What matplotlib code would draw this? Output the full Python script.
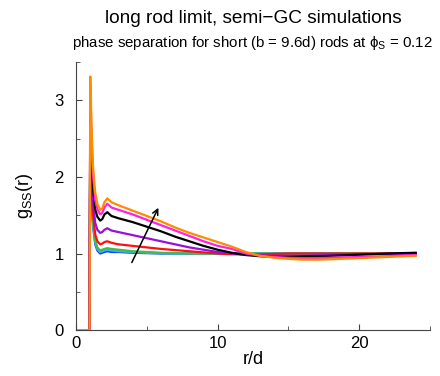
import numpy as np
import matplotlib
matplotlib.use("Agg")
import matplotlib.pyplot as plt
from matplotlib.ticker import MultipleLocator

plt.rcParams['font.family'] = ['Liberation Sans', 'DejaVu Sans']
plt.rcParams['mathtext.fontset'] = 'custom'
plt.rcParams['mathtext.rm'] = 'Liberation Sans'
plt.rcParams['mathtext.it'] = 'Liberation Sans:italic'

# shared r/d grid
r = [0, 0.95, 1.0, 1.1, 1.2, 1.35, 1.5, 1.7, 1.85, 2.0, 2.2, 2.5, 3.0,
     4, 5, 6, 7, 8, 9, 10, 11, 12, 13, 14, 15, 16, 17, 18, 20, 22, 24]

# g_SS(r) curves, lowest to highest density
g_blue = [0, 0, 2.40, 1.70, 1.35, 1.12, 1.04, 1.00, 1.01, 1.02, 1.03, 1.02, 1.02,
          1.01, 1.005, 1.0, 1.0, 1.0, 1.0, 1.0, 1.0, 1.0, 1.0, 1.0, 1.0, 1.0, 1.0, 1.0, 1.0, 1.0, 1.0]
g_cyan = [0, 0, 2.50, 1.75, 1.38, 1.14, 1.06, 1.02, 1.03, 1.04, 1.05, 1.04, 1.03,
          1.02, 1.01, 1.005, 1.0, 1.0, 1.0, 1.0, 1.0, 1.0, 1.0, 1.0, 1.0, 1.0, 1.0, 1.0, 1.0, 1.0, 1.0]
g_green = [0, 0, 2.60, 1.80, 1.42, 1.17, 1.08, 1.04, 1.05, 1.06, 1.07, 1.06, 1.05,
           1.03, 1.02, 1.01, 1.005, 1.0, 1.0, 1.0, 1.0, 1.0, 1.0, 1.0, 1.0, 1.0, 1.0, 1.0, 1.0, 1.0, 1.0]
g_red = [0, 0, 2.70, 1.88, 1.50, 1.25, 1.16, 1.12, 1.13, 1.15, 1.16, 1.14, 1.12,
         1.10, 1.08, 1.06, 1.045, 1.03, 1.015, 1.0, 0.99, 0.99, 0.99, 0.995, 1.0, 1.0, 1.0, 1.0, 1.0, 1.0, 1.0]
g_purple = [0, 0, 2.85, 2.05, 1.65, 1.40, 1.31, 1.27, 1.28, 1.31, 1.33, 1.30, 1.28,
            1.24, 1.20, 1.16, 1.12, 1.08, 1.05, 1.02, 1.0, 0.985, 0.975, 0.97, 0.97, 0.97, 0.975, 0.98, 0.99, 0.995, 1.0]
g_black = [0, 0, 3.00, 2.25, 1.85, 1.58, 1.48, 1.43, 1.45, 1.51, 1.54, 1.49, 1.46,
           1.41, 1.35, 1.29, 1.22, 1.16, 1.10, 1.05, 1.01, 0.98, 0.965, 0.955, 0.955, 0.96, 0.965, 0.97, 0.985, 1.0, 1.01]
g_magenta = [0, 0, 3.14, 2.45, 2.00, 1.70, 1.58, 1.51, 1.53, 1.60, 1.65, 1.60, 1.57,
             1.51, 1.44, 1.37, 1.30, 1.23, 1.16, 1.10, 1.06, 1.0, 0.97, 0.955, 0.945, 0.94, 0.94, 0.945, 0.955, 0.965, 0.98]
g_orange = [0, 0, 3.31, 2.60, 2.12, 1.80, 1.65, 1.57, 1.59, 1.67, 1.72, 1.67, 1.63,
            1.56, 1.49, 1.42, 1.34, 1.27, 1.21, 1.15, 1.09, 1.02, 0.97, 0.945, 0.93, 0.92, 0.92, 0.925, 0.94, 0.955, 0.97]

curves = [g_blue, g_cyan, g_green, g_red, g_purple, g_black, g_magenta, g_orange]
colors = ['#1a3cff', '#38b4f0', '#44bb44', '#ff1010', '#9a10d8', '#000000', '#ff20e0', '#ff8c00']

fig = plt.figure(figsize=(4.4, 3.76), dpi=100)
ax = fig.add_axes([0.173, 0.122, 0.804, 0.713])

for g, c in zip(curves, colors):
    ax.plot(r, g, color=c, lw=1.6)

# arrow showing increasing density
ax.annotate('', xy=(5.9, 1.63), xytext=(3.85, 0.85),
            arrowprops=dict(arrowstyle='->', color='black', lw=1.1))

ax.set_xlim(0, 25)
ax.set_ylim(0, 3.5)
ax.xaxis.set_major_locator(MultipleLocator(10))
ax.xaxis.set_minor_locator(MultipleLocator(5))
ax.yaxis.set_major_locator(MultipleLocator(1))
ax.yaxis.set_minor_locator(MultipleLocator(0.5))
ax.tick_params(which='both', direction='in', color='#444444', labelsize=12)
ax.tick_params(axis='y', pad=9)
ax.tick_params(axis='x', pad=4)
ax.tick_params(which='major', length=4)
ax.tick_params(which='minor', length=3)
for s in ['top', 'right']:
    ax.spines[s].set_visible(False)
for s in ['left', 'bottom']:
    ax.spines[s].set_color('#444444')

ax.set_xlabel('r/d', fontsize=13, labelpad=0)
ax.set_ylabel(r'g$_\mathrm{SS}$(r)', fontsize=13, labelpad=14)

fig.text(0.575, 0.952, 'long rod limit, semi\u2212GC simulations', ha='center', va='center', fontsize=13.7)
fig.text(0.573, 0.885, r'phase separation for short (b = 9.6d) rods at ϕ$_\mathrm{S}$ = 0.12',
         ha='center', va='center', fontsize=10.8)

fig.savefig('out.png', dpi=100)
